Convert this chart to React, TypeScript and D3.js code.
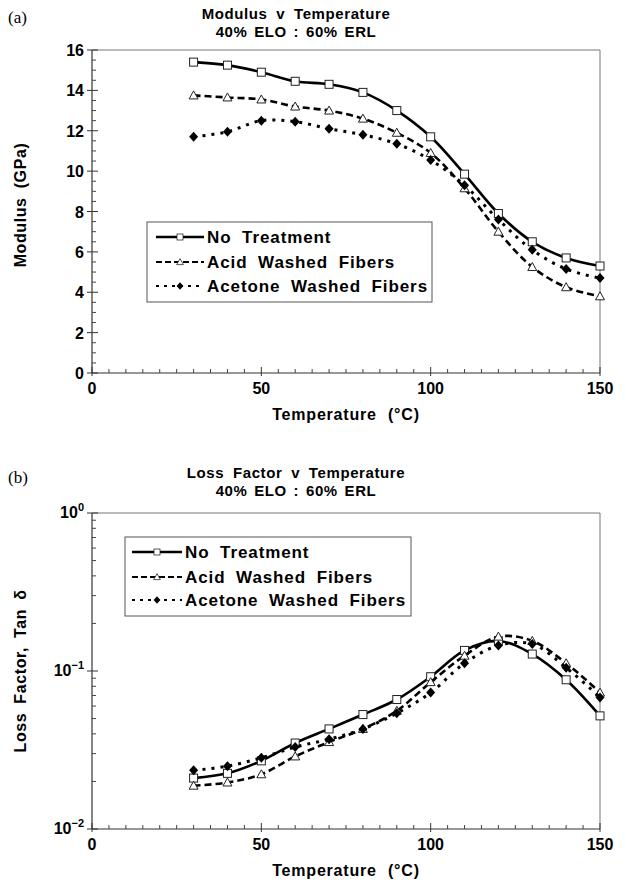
import React from "react";
import * as d3 from "d3";

const temps = [30, 40, 50, 60, 70, 80, 90, 100, 110, 120, 130, 140, 150];

const seriesNames = ["No Treatment", "Acid Washed Fibers", "Acetone Washed Fibers"];

const modulusNoTreatment = [15.4, 15.25, 14.9, 14.45, 14.3, 13.9, 13.0, 11.7, 9.85, 7.9, 6.5, 5.7, 5.3];
const modulusAcid = [13.75, 13.65, 13.55, 13.2, 13.0, 12.6, 11.9, 10.9, 9.15, 7.0, 5.25, 4.25, 3.8];
const modulusAcetone = [11.7, 11.95, 12.5, 12.45, 12.1, 11.8, 11.35, 10.55, 9.3, 7.6, 6.1, 5.15, 4.7];

const lossNoTreatment = [0.021, 0.0225, 0.027, 0.035, 0.043, 0.053, 0.066, 0.092, 0.135, 0.155, 0.128, 0.088, 0.052];
const lossAcid = [0.0188, 0.0197, 0.0222, 0.0288, 0.0355, 0.043, 0.056, 0.085, 0.125, 0.165, 0.155, 0.112, 0.073];
const lossAcetone = [0.0235, 0.025, 0.0282, 0.033, 0.037, 0.043, 0.054, 0.073, 0.112, 0.145, 0.148, 0.105, 0.068];

const xTicks = [0, 50, 100, 150];
const modulusTicks = [0, 2, 4, 6, 8, 10, 12, 14, 16];
const lossTickExps = [0, -1, -2];

const FONT = "'Liberation Sans', Arial, Helvetica, sans-serif";

type Style = { dash: string; width: number; marker: "square" | "triangle" | "diamond" };
const styles: Style[] = [
  { dash: "none", width: 2.6, marker: "square" },
  { dash: "7,4", width: 2.6, marker: "triangle" },
  { dash: "3,6", width: 3, marker: "diamond" },
];

function Marker({ kind, x, y }: { kind: string; x: number; y: number }) {
  if (kind === "square")
    return <rect x={x - 4} y={y - 4} width={8} height={8} fill="white" stroke="#222" strokeWidth={1} />;
  if (kind === "triangle")
    return (
      <path
        d={`M${x},${y - 4.5} L${x + 4.5},${y + 3.5} L${x - 4.5},${y + 3.5} Z`}
        fill="white"
        stroke="#222"
        strokeWidth={1}
      />
    );
  return <path d={`M${x},${y - 5} L${x + 4.5},${y} L${x},${y + 5} L${x - 4.5},${y} Z`} fill="black" />;
}

type PanelProps = {
  top: number;
  bottom: number;
  left: number;
  right: number;
  log: boolean;
  series: number[][];
  letter: string;
  letterY: number;
  title: string;
  titleY: number;
  yLabel: string;
  yLabelY: number;
  legend: { x0: number; x1: number; y0: number; y1: number; sx: number; tx: number; rows: number[] };
};

function Panel(p: PanelProps) {
  const x = d3.scaleLinear().domain([0, 150]).range([p.left, p.right]);
  const y = p.log
    ? d3.scaleLog().domain([0.01, 1]).range([p.bottom, p.top])
    : d3.scaleLinear().domain([0, 16]).range([p.bottom, p.top]);
  const line = d3
    .line<[number, number]>()
    .x((d) => x(d[0]))
    .y((d) => y(d[1]))
    .curve(d3.curveCatmullRom.alpha(0.5));

  const xMinor = d3.range(0, 151, 5).filter((v) => v % 50 !== 0);
  let yMinor: number[] = [];
  if (p.log) {
    for (const e of [-2, -1]) for (let k = 2; k <= 9; k++) yMinor.push(k * Math.pow(10, e));
  } else {
    yMinor = d3.range(0, 16.01, 0.5).filter((v) => v % 2 !== 0);
  }
  const yMajor: number[] = p.log ? lossTickExps.map((e) => Math.pow(10, e)) : modulusTicks;
  const midX = (p.left + p.right) / 2;

  return (
    <g fontFamily={FONT}>
      <text x={8} y={p.letterY} fontFamily="'Liberation Serif', 'Times New Roman', serif" fontSize={17}>
        {p.letter}
      </text>
      <text x={midX - 50} y={p.titleY} textAnchor="middle" fontWeight="bold" fontSize={15} letterSpacing={0.6} wordSpacing={4}>
        {p.title}
      </text>
      <text x={midX - 50} y={p.titleY + 18} textAnchor="middle" fontWeight="bold" fontSize={15} letterSpacing={0.6} wordSpacing={2}>
        40% ELO : 60% ERL
      </text>
      {/* frame */}
      <line x1={p.left} x2={p.right} y1={p.top} y2={p.top} stroke="#777" strokeWidth={1} />
      <line x1={p.right} x2={p.right} y1={p.top} y2={p.bottom} stroke="#777" strokeWidth={1} />
      <line x1={p.left} x2={p.left} y1={p.top} y2={p.bottom} stroke="#333" strokeWidth={1.2} />
      <line x1={p.left} x2={p.right} y1={p.bottom} y2={p.bottom} stroke="#333" strokeWidth={1.2} />
      {xMinor.map((v) => (
        <line key={"xm" + v} x1={x(v)} x2={x(v)} y1={p.bottom} y2={p.bottom - 4} stroke="#444" />
      ))}
      {xTicks.map((v) => (
        <g key={"xt" + v}>
          <line x1={x(v)} x2={x(v)} y1={p.bottom + 3} y2={p.bottom - 6} stroke="#333" />
          <text x={x(v)} y={p.bottom + 21} textAnchor="middle" fontWeight="bold" fontSize={16}>
            {v}
          </text>
        </g>
      ))}
      {yMinor.map((v) => (
        <line key={"ym" + v} x1={p.left} x2={p.left + 4} y1={y(v)} y2={y(v)} stroke="#444" />
      ))}
      {yMajor.map((v) => (
        <g key={"yt" + v}>
          <line x1={p.left - 5} x2={p.left + 6} y1={y(v)} y2={y(v)} stroke="#333" />
          {p.log ? (
            <text x={p.left - 8} y={y(v) + 5} textAnchor="end" fontWeight="bold" fontSize={16}>
              10
              <tspan fontSize={11} dy={-7}>
                {String(Math.round(Math.log10(v))).replace("-", "\u2212")}
              </tspan>
            </text>
          ) : (
            <text x={p.left - 8} y={y(v) + 6} textAnchor="end" fontWeight="bold" fontSize={16}>
              {v}
            </text>
          )}
        </g>
      ))}
      <text
        transform={`translate(${26},${p.yLabelY}) rotate(-90)`}
        textAnchor="middle"
        fontWeight="bold"
        fontSize={16}
        letterSpacing={0.6}
        wordSpacing={4}
      >
        {p.yLabel}
      </text>
      <text x={x(75)} y={p.bottom + 47} textAnchor="middle" fontWeight="bold" fontSize={16} letterSpacing={0.8} wordSpacing={6}>
        Temperature (°C)
      </text>
      {/* series */}
      {p.series.map((vals, i) => {
        const pts: [number, number][] = temps.map((t, j) => [t, vals[j]]);
        return (
          <g key={"s" + i}>
            <path
              d={line(pts) || ""}
              fill="none"
              stroke="black"
              strokeWidth={styles[i].width}
              strokeDasharray={styles[i].dash}
            />
            {pts.map((d, j) => (
              <Marker key={j} kind={styles[i].marker} x={x(d[0])} y={y(d[1])} />
            ))}
          </g>
        );
      })}
      {/* legend */}
      <rect
        x={p.legend.x0}
        y={p.legend.y0}
        width={p.legend.x1 - p.legend.x0}
        height={p.legend.y1 - p.legend.y0}
        fill="white"
        stroke="#555"
        strokeWidth={1}
      />
      {seriesNames.map((name, i) => {
        const ry = p.legend.rows[i];
        const mx = (p.legend.sx + p.legend.tx - 3) / 2;
        return (
          <g key={"l" + i}>
            <line
              x1={p.legend.sx}
              x2={p.legend.tx - 3}
              y1={ry}
              y2={ry}
              stroke="black"
              strokeWidth={i === 0 ? 2.6 : 2}
              strokeDasharray={i === 0 ? "none" : i === 1 ? "6,3" : "3,5"}
            />
            <g transform={`translate(${mx},${ry}) scale(0.75) translate(${-mx},${-ry})`}>
              <Marker kind={styles[i].marker} x={mx} y={ry} />
            </g>
            <text x={p.legend.tx} y={ry + 6} fontWeight="bold" fontSize={17} letterSpacing={0.9} wordSpacing={5}>
              {name}
            </text>
          </g>
        );
      })}
    </g>
  );
}

export default function App() {
  return (
    <svg width={626} height={884} style={{ position: "absolute", left: 0, top: 0, background: "white" }}>
      <rect width={626} height={884} fill="white" />
      <Panel
        top={50}
        bottom={373}
        left={92}
        right={600}
        log={false}
        series={[modulusNoTreatment, modulusAcid, modulusAcetone]}
        letter="(a)"
        letterY={23}
        title="Modulus v Temperature"
        titleY={19}
        yLabel="Modulus (GPa)"
        yLabelY={205}
        legend={{ x0: 147, x1: 432, y0: 222, y1: 302, sx: 156, tx: 207, rows: [237, 262, 286] }}
      />
      <Panel
        top={513}
        bottom={829}
        left={92}
        right={600}
        log={true}
        series={[lossNoTreatment, lossAcid, lossAcetone]}
        letter="(b)"
        letterY={483}
        title="Loss Factor v Temperature"
        titleY={478}
        yLabel="Loss Factor, Tan δ"
        yLabelY={671}
        legend={{ x0: 125, x1: 411, y0: 537, y1: 616, sx: 132, tx: 185, rows: [552, 577, 600] }}
      />
    </svg>
  );
}
